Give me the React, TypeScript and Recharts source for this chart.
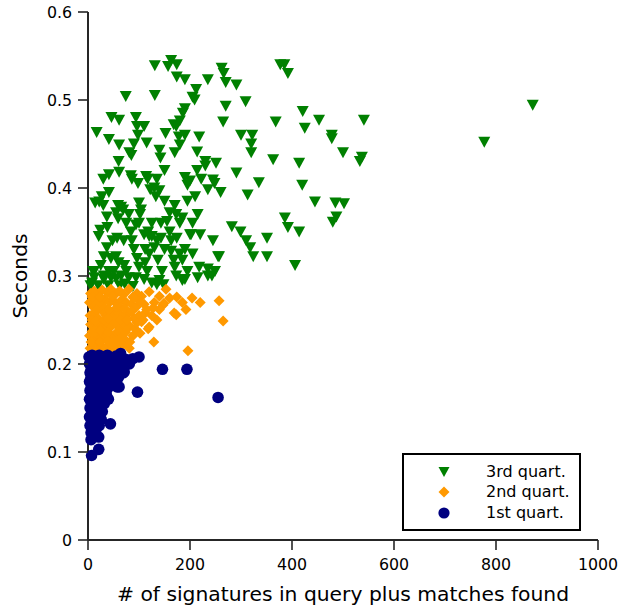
import React from 'react';
import { ScatterChart, Scatter, XAxis, YAxis, Legend, Label } from 'recharts';

// [signatures + matches, seconds]
const q3Points: [number, number][] = [
  [163, 0.545], [174, 0.54], [157, 0.538], [131, 0.539], [174, 0.526], [190, 0.523], [235, 0.523], [262, 0.536],
  [266, 0.53], [270, 0.52], [291, 0.517], [212, 0.512], [209, 0.5], [205, 0.503], [190, 0.49], [377, 0.54],
  [385, 0.54], [392, 0.53], [74, 0.504], [131, 0.505], [270, 0.493], [309, 0.498], [186, 0.485], [180, 0.476],
  [173, 0.47], [168, 0.472], [46, 0.48], [61, 0.477], [94, 0.48], [96, 0.47], [98, 0.46], [17, 0.463],
  [41, 0.455], [61, 0.449], [115, 0.451], [152, 0.462], [178, 0.458], [180, 0.449], [218, 0.458], [214, 0.441],
  [140, 0.443], [142, 0.434], [81, 0.44], [85, 0.437], [322, 0.46], [320, 0.45], [320, 0.44], [368, 0.475],
  [421, 0.487], [425, 0.468], [453, 0.477], [478, 0.46], [478, 0.456], [541, 0.477], [500, 0.44], [537, 0.435],
  [533, 0.43], [363, 0.432], [414, 0.428], [872, 0.494], [777, 0.452],
  [41, 0.415], [61, 0.418], [84, 0.414], [86, 0.41], [98, 0.405], [114, 0.413], [117, 0.41], [135, 0.41],
  [130, 0.4], [140, 0.397], [190, 0.412], [195, 0.403], [200, 0.408], [222, 0.41], [248, 0.405], [214, 0.42],
  [230, 0.425], [251, 0.428], [245, 0.409], [235, 0.398], [291, 0.417], [335, 0.406], [313, 0.392], [420, 0.403],
  [445, 0.384], [485, 0.383], [502, 0.382], [487, 0.367], [480, 0.361], [386, 0.366], [392, 0.355], [414, 0.35],
  [406, 0.312], [282, 0.356], [299, 0.35], [310, 0.34], [318, 0.332], [324, 0.322], [351, 0.343], [351, 0.322],
  [255, 0.322], [218, 0.31], [249, 0.305], [235, 0.3], [200, 0.347], [220, 0.347],
  [41, 0.395], [27, 0.39], [22, 0.384], [14, 0.383], [30, 0.38], [65, 0.378], [59, 0.38], [69, 0.375],
  [100, 0.383], [104, 0.375], [102, 0.37], [133, 0.39], [150, 0.385], [160, 0.372], [170, 0.38], [173, 0.37],
  [37, 0.367], [59, 0.365], [55, 0.372], [94, 0.358], [100, 0.36], [143, 0.36], [155, 0.362], [180, 0.36],
  [185, 0.366], [24, 0.352], [21, 0.345], [57, 0.343], [84, 0.35], [86, 0.34], [110, 0.347], [118, 0.35],
  [125, 0.345], [135, 0.34], [143, 0.343], [163, 0.34], [174, 0.343], [202, 0.347], [37, 0.332], [31, 0.322],
  [55, 0.322], [60, 0.315], [71, 0.312], [90, 0.33], [96, 0.32], [112, 0.33], [120, 0.325], [112, 0.315],
  [116, 0.305], [130, 0.332], [137, 0.318], [163, 0.328], [180, 0.325], [168, 0.318], [170, 0.31], [185, 0.318],
  [257, 0.322], [41, 0.305], [50, 0.305], [75, 0.305], [45, 0.298], [55, 0.297], [65, 0.3], [80, 0.298],
  [12, 0.305], [12, 0.298], [31, 0.3], [31, 0.296], [94, 0.298], [110, 0.296], [125, 0.292], [140, 0.295],
  [173, 0.3], [185, 0.295], [195, 0.305], [190, 0.296], [215, 0.298], [235, 0.308], [243, 0.3], [5, 0.289],
  [20, 0.289], [40, 0.289], [62, 0.289], [72, 0.291], [88, 0.288], [135, 0.29], [148, 0.29], [25, 0.312],
  [45, 0.32], [8, 0.292], [10, 0.305], [80, 0.37], [75, 0.36], [160, 0.35], [150, 0.33], [125, 0.36],
  [210, 0.39], [195, 0.385], [205, 0.36], [215, 0.37], [245, 0.34], [190, 0.33], [205, 0.325], [230, 0.43],
  [122, 0.398], [70, 0.34], [38, 0.355], [48, 0.34], [145, 0.305], [100, 0.31], [120, 0.345], [260, 0.395],
  [150, 0.42], [60, 0.43], [90, 0.45], [170, 0.44], [30, 0.41], [110, 0.47], [190, 0.46], [265, 0.475],
  [300, 0.46],
];

const q2Points: [number, number][] = [
  [5, 0.28], [12, 0.283], [20, 0.278], [28, 0.284], [38, 0.281], [45, 0.285], [55, 0.28], [62, 0.283],
  [70, 0.279], [80, 0.285], [96, 0.28], [105, 0.277], [120, 0.282], [153, 0.285], [174, 0.276], [204, 0.275],
  [220, 0.27], [257, 0.272], [265, 0.249], [192, 0.262], [173, 0.256], [196, 0.215], [129, 0.225], [147, 0.267],
  [149, 0.269], [118, 0.24], [102, 0.235], [81, 0.218], [169, 0.258], [74, 0.227], [120, 0.242],
  [3, 0.27], [10, 0.265], [18, 0.272], [25, 0.268], [33, 0.274], [42, 0.27], [50, 0.272], [58, 0.268],
  [66, 0.273], [75, 0.27], [85, 0.268], [95, 0.265], [110, 0.268], [130, 0.27],
  [4, 0.255], [12, 0.258], [20, 0.252], [28, 0.26], [36, 0.255], [44, 0.26], [52, 0.256], [60, 0.258],
  [70, 0.255], [80, 0.258], [90, 0.252], [100, 0.255], [112, 0.258], [125, 0.255], [140, 0.262],
  [5, 0.245], [14, 0.24], [22, 0.246], [30, 0.242], [38, 0.247], [46, 0.243], [55, 0.245], [64, 0.24],
  [72, 0.246], [82, 0.243], [92, 0.24], [105, 0.248], [135, 0.25],
  [3, 0.232], [10, 0.228], [18, 0.234], [26, 0.23], [34, 0.235], [42, 0.228], [50, 0.232], [58, 0.236],
  [66, 0.23], [88, 0.232],
  [4, 0.218], [12, 0.222], [20, 0.216], [28, 0.22], [36, 0.218], [44, 0.222], [52, 0.215], [60, 0.22],
  [15, 0.212], [30, 0.213], [45, 0.211],
  [8, 0.276], [16, 0.262], [24, 0.276], [32, 0.264], [40, 0.262], [48, 0.277], [56, 0.264], [64, 0.264],
  [72, 0.263], [88, 0.276], [100, 0.272], [8, 0.25], [16, 0.249], [24, 0.238], [32, 0.25], [40, 0.236],
  [48, 0.25], [56, 0.25], [64, 0.25], [76, 0.25], [86, 0.26], [96, 0.247], [8, 0.237], [40, 0.252],
  [60, 0.238], [74, 0.236], [82, 0.225], [6, 0.225], [14, 0.215], [24, 0.225], [38, 0.226], [48, 0.224],
  [56, 0.226], [68, 0.222], [115, 0.262], [128, 0.264], [108, 0.25], [90, 0.275], [140, 0.277], [160, 0.275],
  [185, 0.27],
];

const q1Points: [number, number][] = [
  [100, 0.208], [81, 0.2], [146, 0.194], [194, 0.194], [255, 0.162], [97, 0.168], [44, 0.132], [21, 0.117],
  [6, 0.114], [21, 0.103], [7, 0.096], [57, 0.174], [71, 0.191], [61, 0.174], [53, 0.176], [69, 0.19],
  [2, 0.208], [8, 0.21], [15, 0.207], [22, 0.21], [30, 0.208], [38, 0.21], [46, 0.207], [55, 0.209], [62, 0.206],
  [3, 0.2], [10, 0.198], [18, 0.202], [26, 0.199], [34, 0.201], [42, 0.198], [50, 0.2], [58, 0.196],
  [4, 0.19], [12, 0.188], [20, 0.192], [28, 0.189], [36, 0.19], [45, 0.187], [60, 0.185],
  [3, 0.18], [10, 0.178], [18, 0.181], [26, 0.177], [34, 0.179], [44, 0.176],
  [4, 0.17], [12, 0.168], [20, 0.171], [28, 0.167], [36, 0.165],
  [3, 0.16], [10, 0.158], [18, 0.161], [26, 0.157], [32, 0.155],
  [4, 0.15], [12, 0.148], [20, 0.151], [28, 0.146],
  [3, 0.14], [10, 0.138], [18, 0.141], [26, 0.137],
  [4, 0.13], [12, 0.128], [6, 0.122], [15, 0.124],
  [6, 0.204], [12, 0.203], [20, 0.196], [28, 0.204], [36, 0.195], [44, 0.204], [52, 0.194], [66, 0.2],
  [6, 0.193], [16, 0.184], [24, 0.184], [32, 0.185], [40, 0.182], [52, 0.182], [6, 0.185], [14, 0.174],
  [22, 0.175], [30, 0.172], [38, 0.172], [7, 0.175], [8, 0.165], [16, 0.164], [24, 0.162], [32, 0.16],
  [7, 0.155], [15, 0.153], [23, 0.155], [8, 0.144], [16, 0.143], [24, 0.15], [7, 0.134], [15, 0.133],
  [22, 0.13], [40, 0.16], [50, 0.19], [64, 0.212], [75, 0.205], [88, 0.206],
];

const xTicks = [0, 200, 400, 600, 800, 1000];
const yTicks = [0, 0.1, 0.2, 0.3, 0.4, 0.5, 0.6];

const seriesNames = ['3rd quart.', '2nd quart.', '1st quart.'];
const seriesColors = ['#008000', '#ff9900', '#000080'];

const FONT = '"DejaVu Sans", sans-serif';
const AXIS = '#262626';
const TICK_FS = 15.8;
const LABEL_FS = 20.3;

const toRows = (pts: [number, number][]) => pts.map(([x, y]) => ({ x, y }));

const TriangleDown = (props: any) => {
  const { cx, cy, fill } = props;
  return <path d={`M${cx - 6},${cy - 5.5}L${cx + 6},${cy - 5.5}L${cx},${cy + 5.5}Z`} fill={fill} />;
};

const Diamond = (props: any) => {
  const { cx, cy, fill } = props;
  return <path d={`M${cx},${cy - 5.5}L${cx + 5.5},${cy}L${cx},${cy + 5.5}L${cx - 5.5},${cy}Z`} fill={fill} />;
};

const Dot = (props: any) => {
  const { cx, cy, fill } = props;
  return <circle cx={cx} cy={cy} r={5.8} fill={fill} />;
};

// matplotlib-style ticks: pointing outward, label below / left
const XTick = ({ x, y, payload }: any) => (
  <g>
    <line x1={x} x2={x} y1={y} y2={y + 10} stroke={AXIS} strokeWidth={1.6} />
    <text x={x} y={y + 30} textAnchor="middle" fontSize={TICK_FS} fontFamily={FONT} fill="#000">
      {payload.value}
    </text>
  </g>
);

const YTick = ({ x, y, payload }: any) => (
  <g>
    <line x1={x - 10} x2={x} y1={y} y2={y} stroke={AXIS} strokeWidth={1.6} />
    <text x={x - 16} y={y + 5.7} textAnchor="end" fontSize={TICK_FS} fontFamily={FONT} fill="#000">
      {payload.value}
    </text>
  </g>
);

const markerFor = (i: number, color: string) => {
  if (i === 0) return <path d="M2.5,3L13.5,3L8,13Z" fill={color} />;
  if (i === 1) return <path d="M8,2.5L13.5,8L8,13.5L2.5,8Z" fill={color} />;
  return <circle cx={8} cy={8} r={5.6} fill={color} />;
};

const LegendBox = () => (
  <div
    style={{
      position: 'relative',
      width: 179,
      height: 78,
      border: '2px solid #000',
      boxSizing: 'border-box',
      background: '#fff',
      fontFamily: FONT,
      fontSize: 16,
    }}
  >
    {seriesNames.map((name, i) => (
      <div key={name} style={{ position: 'absolute', left: 0, top: 9 + i * 20.3, height: 20, width: '100%' }}>
        <svg width={16} height={16} style={{ position: 'absolute', left: 32, top: 0 }}>
          {markerFor(i, seriesColors[i])}
        </svg>
        <span style={{ position: 'absolute', left: 82, top: -1, lineHeight: '18px', whiteSpace: 'nowrap' }}>{name}</span>
      </div>
    ))}
  </div>
);

export default function App() {
  const shapes = [TriangleDown, Diamond, Dot];
  const series = [q3Points, q2Points, q1Points];
  return (
    <div style={{ position: 'absolute', left: 0, top: 0, background: '#fff' }}>
      <ScatterChart width={625} height={608} margin={{ top: 12, right: 27, left: 0, bottom: 0 }}>
        <XAxis
          type="number"
          dataKey="x"
          domain={[0, 1000]}
          ticks={xTicks}
          height={68}
          tickSize={0}
          tickMargin={0}
          tickLine={false}
          tick={<XTick />}
          axisLine={{ stroke: AXIS, strokeWidth: 2 }}
          interval={0}
        >
          <Label
            value="# of signatures in query plus matches found"
            position="insideBottom"
            offset={7}
            style={{ fontSize: LABEL_FS, fontFamily: FONT, fill: '#000' }}
          />
        </XAxis>
        <YAxis
          type="number"
          dataKey="y"
          domain={[0, 0.6]}
          ticks={yTicks}
          width={88}
          tickSize={0}
          tickMargin={0}
          tickLine={false}
          tick={<YTick />}
          axisLine={{ stroke: AXIS, strokeWidth: 2 }}
          interval={0}
        >
          <Label
            value="Seconds"
            angle={-90}
            position="insideLeft"
            offset={20}
            style={{ fontSize: LABEL_FS, fontFamily: FONT, fill: '#000', textAnchor: 'middle' }}
          />
        </YAxis>
        {series.map((pts, i) => (
          <Scatter
            key={seriesNames[i]}
            name={seriesNames[i]}
            data={toRows(pts)}
            fill={seriesColors[i]}
            shape={shapes[i]}
            isAnimationActive={false}
          />
        ))}
        <Legend
          layout="horizontal"
          verticalAlign="middle"
          align="center"
          content={<LegendBox />}
          wrapperStyle={{ left: 402, top: 453, width: 179, height: 78 }}
        />
      </ScatterChart>
    </div>
  );
}
